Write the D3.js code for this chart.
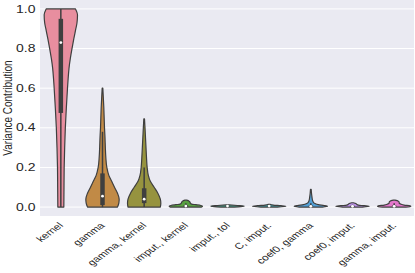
<!DOCTYPE html>
<html>
<head>
<meta charset="utf-8">
<script src="https://cdn.jsdelivr.net/npm/d3@7"></script>
<style>
  body { margin: 0; background: #fff; }
  text { font-family: "Liberation Sans", Arial, sans-serif; fill: #262626; }
</style>
</head>
<body>
<div id="chart"></div>
<script>
const width = 415;
const height = 273;

// categories on the x axis
const categories = ["kernel", "gamma", "gamma, kernel", "imput., kernel", "imput., tol",
  "C, imput.", "coef0, gamma", "coef0, imput.", "gamma, imput."];

const yTicks = [0, 0.2, 0.4, 0.6, 0.8, 1.0];

// husl palette (before seaborn's 0.75 desaturation)
const palette = ["#f77f95", "#d58c32", "#a4a031", "#50b131", "#34ae91",
  "#37abb5", "#3ba3ec", "#bb83f4", "#f564d4"];

// density outline: [value, relative half width]
const densKernel = [[1.00, 0.88], [0.97, 1.0], [0.93, 0.97], [0.90, 0.90], [0.85, 0.78], [0.80, 0.67],
  [0.75, 0.57], [0.70, 0.49], [0.65, 0.44], [0.60, 0.40], [0.50, 0.33], [0.40, 0.27],
  [0.30, 0.23], [0.20, 0.20], [0.10, 0.19], [0.00, 0.18]];
const densGamma = [[0.60, 0.02], [0.55, 0.05], [0.50, 0.08], [0.45, 0.10], [0.40, 0.12], [0.35, 0.15],
  [0.30, 0.17], [0.25, 0.20], [0.20, 0.26], [0.16, 0.38], [0.13, 0.55], [0.10, 0.72],
  [0.07, 0.90], [0.04, 1.0], [0.02, 0.98], [0.00, 0.90]];
const densGammaKernel = [[0.445, 0.02], [0.40, 0.05], [0.35, 0.08], [0.30, 0.11], [0.25, 0.14],
  [0.20, 0.18], [0.16, 0.25], [0.13, 0.37], [0.10, 0.60], [0.07, 0.82], [0.04, 0.97],
  [0.02, 1.0], [0.00, 0.97]];
const densImputKernel = [[0.035, 0.05], [0.03, 0.2], [0.025, 0.25], [0.02, 0.27], [0.015, 0.35],
  [0.012, 0.6], [0.008, 0.9], [0.004, 1.0], [0.0, 0.92]];
const densImputTol = [[0.011, 0.1], [0.008, 0.6], [0.005, 1.0], [0.002, 0.8], [0.0, 0.4]];
const densCImput = [[0.014, 0.05], [0.01, 0.25], [0.007, 0.7], [0.004, 1.0], [0.0, 0.5]];
const densCoef0Gamma = [[0.09, 0.02], [0.07, 0.04], [0.05, 0.07], [0.035, 0.1], [0.025, 0.15],
  [0.018, 0.25], [0.012, 0.45], [0.008, 0.8], [0.004, 1.0], [0.0, 0.7]];
const densCoef0Imput = [[0.022, 0.05], [0.018, 0.2], [0.014, 0.25], [0.01, 0.35], [0.007, 0.7],
  [0.004, 1.0], [0.0, 0.6]];
const densGammaImput = [[0.035, 0.05], [0.03, 0.25], [0.025, 0.3], [0.02, 0.3], [0.015, 0.4],
  [0.01, 0.6], [0.006, 0.95], [0.003, 1.0], [0.0, 0.7]];

const densities = [densKernel, densGamma, densGammaKernel, densImputKernel, densImputTol,
  densCImput, densCoef0Gamma, densCoef0Imput, densGammaImput];

// inner box: [whisker low, q1, median, q3, whisker high]
const boxStats = [
  [0.0, 0.475, 0.83, 0.95, 1.0],
  [0.0, 0.01, 0.055, 0.17, 0.38],
  [0.0, 0.02, 0.04, 0.095, 0.20],
  [0.0, 0.002, 0.005, 0.01, 0.02],
  [0.0, 0.003, 0.005, 0.007, 0.01],
  [0.0, 0.003, 0.005, 0.007, 0.01],
  [0.0, 0.002, 0.004, 0.008, 0.02],
  [0.0, 0.002, 0.004, 0.007, 0.012],
  [0.0, 0.002, 0.004, 0.008, 0.02]
];

const plot = {left: 40, right: 414, top: 0, bottom: 216};
const lineColor = "#3f3f3f";
// the picture is stretched sideways, text included
const stretch = 1.37;

const svg = d3.select("#chart").append("svg")
  .attr("width", width)
  .attr("height", height);

const x = d3.scaleBand()
  .domain(categories)
  .range([40, 415]);

const y = d3.scaleLinear()
  .domain([-0.05, 1.05])
  .range([217, -1]);

const halfW = d3.scaleLinear()
  .domain([0, 1])
  .range([0, x.bandwidth() * 0.4]);

// background panel
svg.append("rect")
  .attr("x", plot.left)
  .attr("y", plot.top)
  .attr("width", plot.right - plot.left)
  .attr("height", plot.bottom - plot.top)
  .attr("fill", "#eaeaf2");

// horizontal grid
svg.selectAll(".grid")
  .data(yTicks)
  .enter()
  .append("line")
    .attr("class", "grid")
    .attr("x1", plot.left)
    .attr("x2", plot.right)
    .attr("y1", d => y(d))
    .attr("y2", d => y(d))
    .attr("stroke", "#fff")
    .attr("stroke-width", 1);

// y tick labels
svg.selectAll(".ytick")
  .data(yTicks)
  .enter()
  .append("text")
    .attr("class", "ytick")
    .attr("transform", d => `translate(35.5, ${y(d)}) scale(${stretch}, 1)`)
    .attr("dy", "0.36em")
    .attr("text-anchor", "end")
    .style("font-size", "10.2px")
    .text(d => d3.format(".1f")(d));

svg.append("text")
  .attr("transform", `translate(11.5, ${y(0.5)}) scale(${stretch}, 1) rotate(-90)`)
  .attr("text-anchor", "middle")
  .style("font-size", "10px")
  .text("Variance Contribution");

// violins
categories.forEach((cat, i) => {
  const cx = x(cat) + x.bandwidth() / 2;
  const base = d3.hsl(palette[i]);
  base.s *= 0.75;

  const area = d3.area()
    .y(d => y(d[0]))
    .x0(d => cx - halfW(d[1]))
    .x1(d => cx + halfW(d[1]))
    .curve(d3.curveMonotoneY);

  const g = svg.append("g");

  g.append("path")
    .datum(densities[i])
    .attr("d", area)
    .attr("fill", base.formatHex())
    .attr("stroke", lineColor)
    .attr("stroke-width", 1.2)
    .attr("stroke-linejoin", "round");

  const b = boxStats[i];
  g.append("line")
    .attr("x1", cx).attr("x2", cx)
    .attr("y1", y(b[0])).attr("y2", y(b[4]))
    .attr("stroke", lineColor)
    .attr("stroke-width", 1.5);
  g.append("line")
    .attr("x1", cx).attr("x2", cx)
    .attr("y1", y(b[1])).attr("y2", y(b[3]))
    .attr("stroke", lineColor)
    .attr("stroke-width", 4.5);
  g.append("circle")
    .attr("cx", cx)
    .attr("cy", y(b[2]))
    .attr("r", 1.4)
    .attr("fill", "#fff");
});

// x tick labels, rotated 45 degrees with right alignment, then stretched
svg.selectAll(".xtick")
  .data(categories)
  .enter()
  .append("text")
    .attr("class", "xtick")
    .attr("transform", d => `translate(${x(d) + x.bandwidth() / 2 + 3}, 226) scale(${stretch}, 1) rotate(-45)`)
    .attr("text-anchor", "end")
    .style("font-size", "8.6px")
    .text(d => d);
</script>
</body>
</html>
